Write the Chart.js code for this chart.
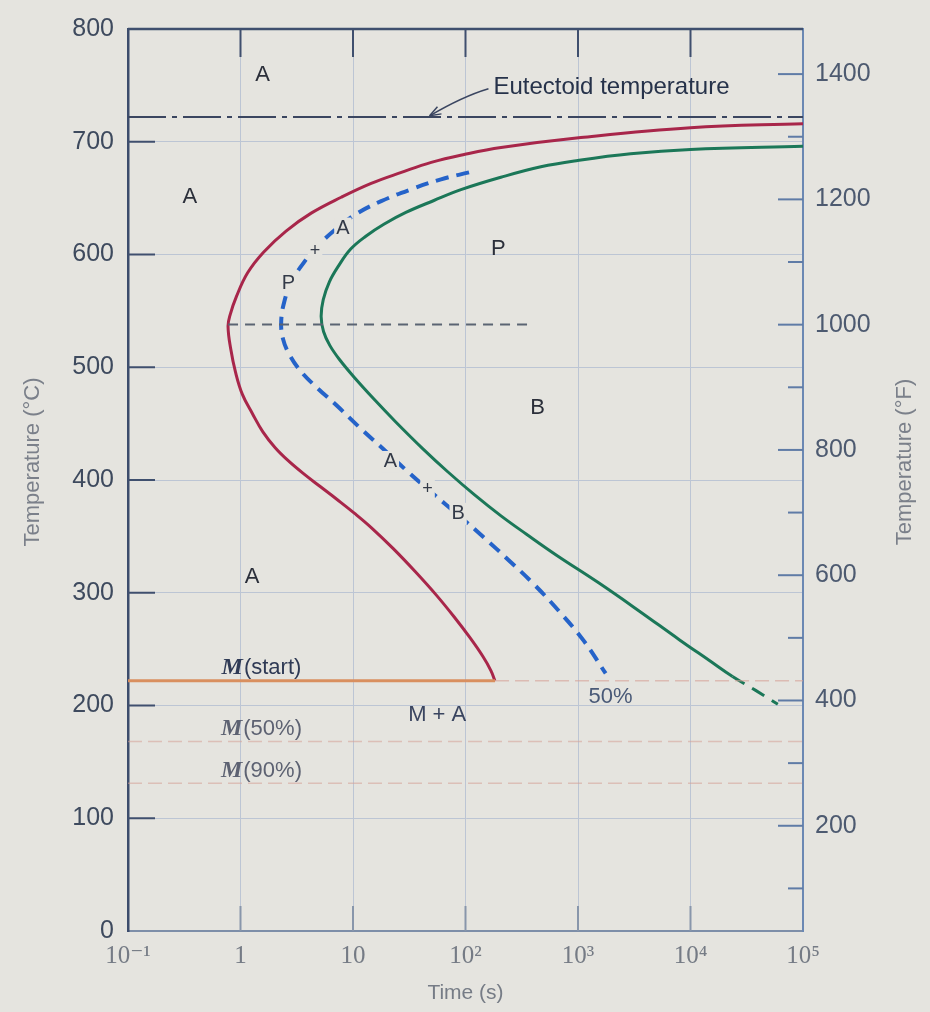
<!DOCTYPE html>
<html>
<head>
<meta charset="utf-8">
<script src="https://cdn.jsdelivr.net/npm/chart.js@4.4.0/dist/chart.umd.min.js"></script>
<style>
  body { margin: 0; background: #e5e4df; }
  canvas { display: block; }
</style>
</head>
<body>
<canvas id="tttChart" width="930" height="1012"></canvas>
<script>
// isothermal transformation curves (time in s, temperature in °C)
const startTimes = [100000, 10000, 1060, 207, 97.3, 49.6, 26.9, 14.5, 7.86, 4.25, 2.54, 1.61, 1.157, 0.919, 0.81, 0.775,
  0.82, 0.903, 1.037, 1.281, 1.581, 2.034, 2.655, 3.631, 5.11, 7.22, 10.33, 14.6, 22.8, 35.7, 54.8, 79.1, 109.6, 142.9, 168.2, 182.5];
const startTemps = [716, 712.5, 703.7, 694.9, 688.7, 681.7, 672.8, 663.1, 650.8, 636.7, 620.8, 602.3, 583.8, 562.6, 546.7, 536.2,
  515.9, 495.6, 476.2, 458.6, 442.7, 428.6, 417.1, 405.6, 394.2, 382.7, 370.4, 357.6, 339.1, 318.8, 298.1, 278.7, 260.1, 243.4, 231, 222];

const halfTimes = [107.5, 60.6, 32.8, 17.8, 10.6, 7.05, 4.97, 3.64, 2.84, 2.45, 2.3, 2.38, 2.74, 3.49, 4.83, 7.25,
  11.3, 18.9, 31.4, 51.2, 87.1, 145, 242, 403, 673, 1123, 1762];
const halfTemps = [672.8, 666.7, 657.8, 647.3, 635.8, 622.6, 608.5, 592.6, 575.8, 558.2, 540.6, 525.6, 510.6, 495.6, 481.5, 465.6,
  447.1, 426.8, 406.5, 388, 368.6, 349.2, 328.9, 307.8, 284, 257.5, 228.4];

const finishTimes = [100000, 10000, 2935, 995, 467.5, 206.5, 91.1, 52.4, 29.5, 18.8, 13, 9.54, 7.44, 6.17, 5.44, 5.21, 5.47, 6.22,
  7.55, 10.33, 15.34, 24, 41.6, 69.9, 120.5, 206.8, 348.5, 644, 1537, 3491, 7943, 14720, 23630, 37950, 59730];
const finishTemps = [696, 693.1, 689.3, 683.4, 677.8, 668.5, 657.5, 647.9, 637.3, 626.8, 616.2, 604.8, 589.9, 575.8, 560, 545, 531.7, 519.4,
  507.1, 490.7, 471.8, 451.5, 427.9, 407.1, 386.8, 368.2, 351.9, 333.3, 308.6, 283.9, 258.4, 239.9, 225.7, 213.4, 201.1];
const finishDashBelow = 226; // finish curve is only estimated (dashed) below this temperature

const eutectoidTemp = 722;
const msTemp = 222;
const m50Temp = 168;
const m90Temp = 131;
const noseTemp = 538;
const noseRange = [0.775, 375];

const timeTicks = [0.1, 1, 10, 100, 1000, 10000, 100000];
const timeTickLabels = ['10\u207B\u00B9', '1', '10', '10\u00B2', '10\u00B3', '10\u2074', '10\u2075'];
const celsiusTicks = [0, 100, 200, 300, 400, 500, 600, 700, 800];
const fahrenheitTicks = [200, 400, 600, 800, 1000, 1200, 1400];
const fahrenheitMinor = [100, 300, 500, 700, 900, 1100, 1300];

// text annotations in data coordinates
const regionLabels = [
  { text: 'A', t: 1.57, T: 759 },
  { text: 'A', t: 0.355, T: 651 },
  { text: 'P', t: 196, T: 605 },
  { text: 'B', t: 437, T: 464 },
  { text: 'A', t: 1.27, T: 314 },
  { text: 'M + A', t: 56, T: 192 }
];
const curveLabels = [
  { text: 'P', t: 2.67, T: 574 },
  { text: '+', t: 4.6, T: 603 },
  { text: 'A', t: 8.13, T: 623 },
  { text: 'A', t: 21.5, T: 416 },
  { text: '+', t: 46, T: 392 },
  { text: 'B', t: 86, T: 370 }
];
const martensiteLabels = [
  { sub: '(start)', t: 1.52, T: 233, color: '#2f3a55' },
  { sub: '(50%)', t: 1.52, T: 179, color: '#5d6272' },
  { sub: '(90%)', t: 1.52, T: 142, color: '#5d6272' }
];

const BG = '#e5e4df';
const SANS = '"Liberation Sans", Arial, sans-serif';
const SERIF = '"Liberation Serif", "DejaVu Serif", serif';

const pts = (xs, ys) => xs.map((x, i) => ({ x: x, y: ys[i] }));
const hline = (y, x0, x1) => [{ x: x0, y: y }, { x: x1, y: y }];

const base = { showLine: true, pointRadius: 0, fill: false };

const decor = {
  id: 'decor',
  beforeDraw(chart) {
    const ctx = chart.ctx;
    ctx.save();
    ctx.fillStyle = BG;
    ctx.fillRect(0, 0, chart.width, chart.height);
    ctx.restore();
  },
  afterDatasetsDraw(chart) {
    const ctx = chart.ctx;
    const xs = chart.scales.x, yc = chart.scales.y, yf = chart.scales.yF;
    const { left, right, top, bottom } = chart.chartArea;
    const line = (x0, y0, x1, y1) => { ctx.beginPath(); ctx.moveTo(x0, y0); ctx.lineTo(x1, y1); ctx.stroke(); };
    const px = t => xs.getPixelForValue(t);
    const py = T => yc.getPixelForValue(T);
    ctx.save();

    // frame top + inward tick marks
    ctx.strokeStyle = '#3f4f6e';
    ctx.lineWidth = 2.5;
    line(left, top, right, top);
    ctx.lineWidth = 2;
    celsiusTicks.forEach(v => { if (v > 0 && v < 800) line(left, py(v), left + 27, py(v)); });
    timeTicks.slice(1, -1).forEach(v => line(px(v), top, px(v), top + 28));
    ctx.strokeStyle = '#8896ab';
    timeTicks.slice(1, -1).forEach(v => line(px(v), bottom, px(v), bottom - 25));
    ctx.strokeStyle = '#5f7ba6';
    fahrenheitTicks.forEach(v => line(right, yf.getPixelForValue(v), right - 25, yf.getPixelForValue(v)));
    fahrenheitMinor.forEach(v => line(right, yf.getPixelForValue(v), right - 15, yf.getPixelForValue(v)));

    // eutectoid label + arrow
    ctx.fillStyle = '#26324a';
    ctx.font = '24px ' + SANS;
    ctx.textAlign = 'left';
    ctx.textBaseline = 'middle';
    ctx.fillText('Eutectoid temperature', px(177), py(748));
    const ax0 = px(160), ay0 = py(747), ax1 = px(48), ay1 = py(723);
    ctx.strokeStyle = '#3a4560';
    ctx.lineWidth = 1.5;
    ctx.beginPath();
    ctx.moveTo(ax0, ay0);
    ctx.quadraticCurveTo((ax0 + ax1) / 2 + 4, (ay0 + ay1) / 2 - 6, ax1, ay1);
    ctx.stroke();
    const ang = Math.atan2(ay1 - ay0 + 6, ax1 - ax0);
    line(ax1, ay1, ax1 - 12 * Math.cos(ang - 0.35), ay1 - 12 * Math.sin(ang - 0.35));
    line(ax1, ay1, ax1 - 12 * Math.cos(ang + 0.35), ay1 - 12 * Math.sin(ang + 0.35));

    // region labels
    ctx.textAlign = 'center';
    ctx.font = '22px ' + SANS;
    regionLabels.forEach(l => {
      ctx.fillStyle = l.text === 'M + A' ? '#3a4560' : '#2b2f3a';
      ctx.fillText(l.text, px(l.t), py(l.T));
    });

    // labels sitting on the 50% curve
    curveLabels.forEach(l => {
      ctx.font = (l.text === '+' ? '18px ' : '20px ') + SANS;
      const w = ctx.measureText(l.text).width;
      ctx.fillStyle = BG;
      ctx.fillRect(px(l.t) - w / 2 - 2, py(l.T) - 11, w + 4, 22);
      ctx.fillStyle = '#333a48';
      ctx.fillText(l.text, px(l.t), py(l.T));
    });
    ctx.font = '22px ' + SANS;
    ctx.fillStyle = '#4a5a78';
    ctx.fillText('50%', px(1950), py(208));

    // martensite labels
    martensiteLabels.forEach(l => {
      ctx.font = 'italic bold 24px ' + SERIF;
      const wm = ctx.measureText('M').width;
      ctx.font = '22px ' + SANS;
      const ws = ctx.measureText(l.sub).width;
      const x0 = px(l.t) - (wm + ws) / 2;
      ctx.textAlign = 'left';
      ctx.fillStyle = l.color;
      ctx.font = 'italic bold 24px ' + SERIF;
      ctx.fillText('M', x0, py(l.T));
      ctx.font = '22px ' + SANS;
      ctx.fillText(l.sub, x0 + wm + 1, py(l.T));
    });

    // vertical axis titles (both read bottom to top)
    ctx.fillStyle = '#7b808a';
    ctx.font = '22px ' + SANS;
    ctx.textAlign = 'center';
    [['Temperature (\u00B0C)', 33], ['Temperature (\u00B0F)', 905]].forEach(([txt, x]) => {
      ctx.save();
      ctx.translate(x, 462);
      ctx.rotate(-Math.PI / 2);
      ctx.fillText(txt, 0, 0);
      ctx.restore();
    });
    ctx.restore();
  }
};

new Chart(document.getElementById('tttChart'), {
  type: 'scatter',
  data: {
    datasets: [
      { ...base, data: hline(m50Temp, 0.1, 100000), borderColor: 'rgba(214,160,150,0.55)', borderWidth: 1.5, borderDash: [14, 6] },
      { ...base, data: hline(m90Temp, 0.1, 100000), borderColor: 'rgba(214,160,150,0.55)', borderWidth: 1.5, borderDash: [14, 6] },
      { ...base, data: hline(msTemp, 183, 100000), borderColor: 'rgba(214,160,150,0.6)', borderWidth: 1.5, borderDash: [14, 6] },
      { ...base, data: hline(msTemp, 0.1, 183), borderColor: '#d98f5f', borderWidth: 3 },
      { ...base, data: hline(eutectoidTemp, 0.1, 100000), borderColor: '#3b4660', borderWidth: 2, borderDash: [38, 6, 5, 6] },
      { ...base, data: hline(noseTemp, noseRange[0], noseRange[1]), borderColor: '#5b6473', borderWidth: 2, borderDash: [10, 7] },
      { ...base, data: pts(halfTimes, halfTemps), borderColor: '#2563c9', borderWidth: 4, borderDash: [13, 8], tension: 0.4 },
      { ...base, data: pts(finishTimes, finishTemps), borderColor: '#1b7758', borderWidth: 3, tension: 0.4,
        segment: { borderDash: c => c.p0.parsed.y <= finishDashBelow ? [14, 9] : undefined } },
      { ...base, data: pts(startTimes, startTemps), borderColor: '#a8264a', borderWidth: 3, tension: 0.4 }
    ]
  },
  options: {
    responsive: false,
    animation: false,
    devicePixelRatio: 1,
    layout: { padding: { top: 24, left: 0, right: 0, bottom: 0 } },
    plugins: { legend: { display: false }, tooltip: { enabled: false } },
    scales: {
      x: {
        type: 'logarithmic',
        min: 0.1,
        max: 100000,
        afterBuildTicks: s => { s.ticks = timeTicks.map(v => ({ value: v })); },
        afterFit: s => { s.height = 81; },
        ticks: {
          autoSkip: false,
          maxRotation: 0,
          padding: 10,
          color: '#757b85',
          font: { family: SERIF, size: 25 },
          callback: (v, i) => timeTickLabels[i]
        },
        grid: { color: '#bcc5d4', lineWidth: 1, drawTicks: false },
        border: { color: '#7d8ea8', width: 2 },
        title: { display: true, text: 'Time (s)', color: '#767c86', font: { family: SANS, size: 21 }, padding: { top: 0, bottom: 6 } }
      },
      y: {
        type: 'linear',
        position: 'left',
        min: 0,
        max: 800,
        afterBuildTicks: s => { s.ticks = celsiusTicks.map(v => ({ value: v })); },
        afterFit: s => { s.width = 128; },
        ticks: { padding: 14, color: '#3e4a5e', font: { family: SANS, size: 25 }, callback: v => String(v) },
        grid: { color: '#bcc5d4', lineWidth: 1, drawTicks: false },
        border: { color: '#3c4c6c', width: 2.5 }
      },
      yF: {
        type: 'linear',
        position: 'right',
        min: 32,
        max: 800 * 9 / 5 + 32,
        afterBuildTicks: s => { s.ticks = fahrenheitTicks.map(v => ({ value: v })); },
        afterFit: s => { s.width = 127; },
        ticks: { padding: 12, color: '#4d5a70', font: { family: SANS, size: 25 }, callback: v => String(v) },
        grid: { drawOnChartArea: false, drawTicks: false },
        border: { color: '#6b88b3', width: 2 }
      }
    }
  },
  plugins: [decor]
});
</script>
</body>
</html>
